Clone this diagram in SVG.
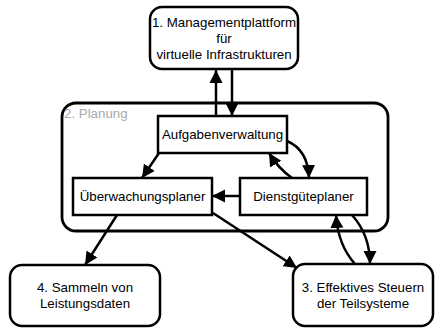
<svg xmlns="http://www.w3.org/2000/svg" width="436" height="329" viewBox="0 0 436 329">
  <style>
    .box { fill: #fff; stroke: #000; stroke-width: 2.5; }
    .lbl { font-family: "Liberation Sans", Arial, sans-serif; font-size: 13.3px; fill: #000; text-anchor: middle; }
    .edge { fill: none; stroke: #000; stroke-width: 2.5; marker-end: url(#head); }
  </style>
  <defs>
    <marker id="head" markerUnits="userSpaceOnUse" markerWidth="14" markerHeight="14" viewBox="0 0 14 14" refX="13" refY="7" orient="auto">
      <path d="M0,0.5 L13,7 L0,13.5 z" fill="#000"/>
    </marker>
  </defs>

  <g id="planung">
    <rect x="62" y="103" width="326" height="128" rx="14" fill="#fff" stroke="#000" stroke-width="2.8"/>
    <text x="64" y="118" style="font-family:'Liberation Sans',Arial,sans-serif;font-size:13.3px;fill:#a8a8a8">2. Planung</text>
  </g>

  <g id="managementplattform">
    <rect class="box" x="150" y="7" width="148" height="62" rx="12"/>
    <text class="lbl" x="224" y="27">1. Managementplattform</text>
    <text class="lbl" x="224" y="43">für</text>
    <text class="lbl" x="224" y="59">virtuelle Infrastrukturen</text>
  </g>

  <g id="aufgabenverwaltung">
    <rect class="box" x="158" y="116" width="129" height="37"/>
    <text class="lbl" x="222.5" y="139">Aufgabenverwaltung</text>
  </g>

  <g id="ueberwachungsplaner">
    <rect class="box" x="73" y="178" width="139" height="37"/>
    <text class="lbl" x="142.5" y="201">Überwachungsplaner</text>
  </g>

  <g id="dienstgueteplaner">
    <rect class="box" x="240" y="178" width="127" height="37"/>
    <text class="lbl" x="303.5" y="201">Dienstgüteplaner</text>
  </g>

  <g id="sammeln">
    <rect class="box" x="10" y="265" width="150" height="61" rx="12"/>
    <text class="lbl" x="85" y="292">4. Sammeln von</text>
    <text class="lbl" x="85" y="308">Leistungsdaten</text>
  </g>

  <g id="steuern">
    <rect class="box" x="293" y="264" width="140" height="62" rx="12"/>
    <text class="lbl" x="363" y="292">3. Effektives Steuern</text>
    <text class="lbl" x="363" y="308">der Teilsysteme</text>
  </g>

  <g id="connectors">
    <path class="edge" d="M216,116 L216,70"/>
    <path class="edge" d="M232,70 L232,116"/>
    <path class="edge" d="M159,153 L142,178"/>
    <path class="edge" d="M287,141 Q308,150 309,178"/>
    <path class="edge" d="M292,178 Q278,168 269,153"/>
    <path class="edge" d="M240,196 L212,196"/>
    <path class="edge" d="M117,215 L85,265"/>
    <path class="edge" d="M213,213 L297,268"/>
    <path class="edge" d="M355,264 Q338,245 336,215"/>
    <path class="edge" d="M352,215 Q370,235 370,264"/>
  </g>
</svg>
